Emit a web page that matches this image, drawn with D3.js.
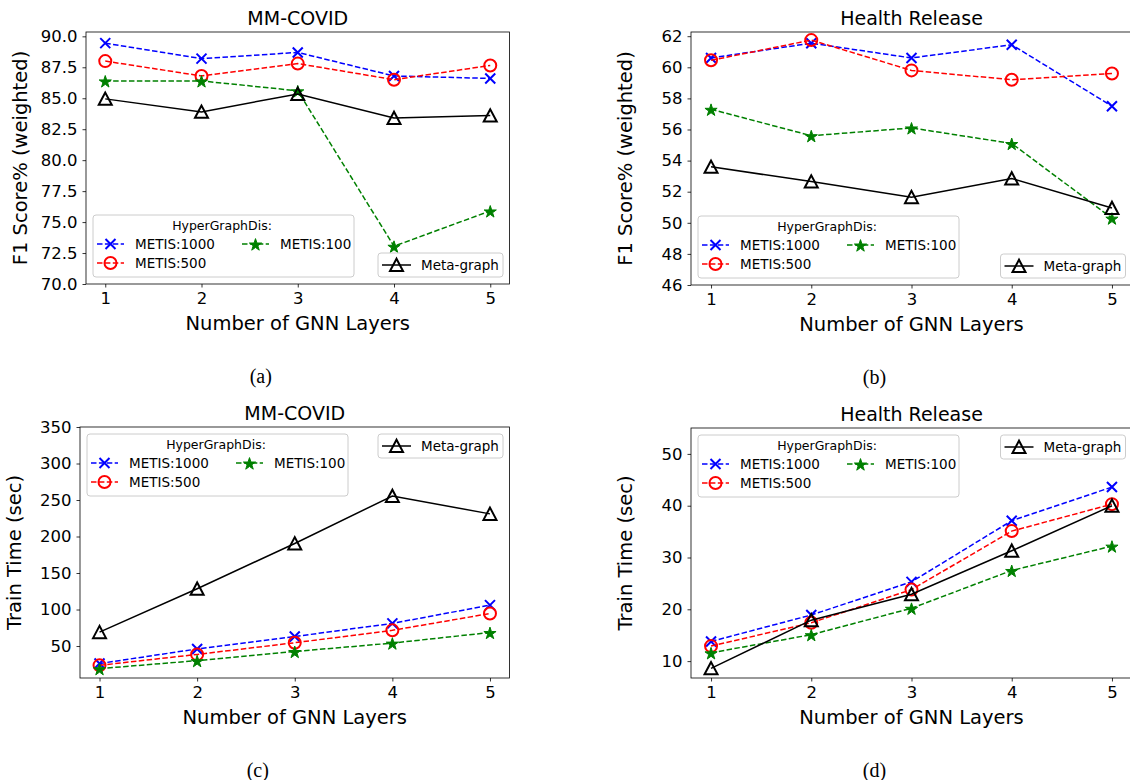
<!DOCTYPE html>
<html>
<head>
<meta charset="utf-8">
<script src="https://cdn.jsdelivr.net/npm/d3@7"></script>
<style>
  body { margin: 0; background: #fff; }
  svg { display: block; font-family: "DejaVu Sans", sans-serif; }
</style>
</head>
<body>
<div class="graph"></div>
<script>
// x axis: number of GNN layers
const layers = [1, 2, 3, 4, 5];

// (a) MM-COVID, F1 score
const covidF1Metis1000 = [89.45, 88.2, 88.7, 86.8, 86.6];
const covidF1Metis500 = [88.0, 86.8, 87.8, 86.5, 87.65];
const covidF1Metis100 = [86.4, 86.4, 85.6, 73.05, 75.9];
const covidF1Meta = [84.95, 83.9, 85.35, 83.4, 83.6];

// (b) Health Release, F1 score
const healthF1Metis1000 = [60.6, 61.55, 60.6, 61.45, 57.5];
const healthF1Metis500 = [60.45, 61.75, 59.8, 59.2, 59.6];
const healthF1Metis100 = [57.3, 55.6, 56.1, 55.1, 50.3];
const healthF1Meta = [53.6, 52.65, 51.65, 52.85, 50.95];

// (c) MM-COVID, train time
const covidTimeMetis1000 = [26, 46, 63, 81, 106];
const covidTimeMetis500 = [23.5, 38.5, 54.5, 71.5, 94.5];
const covidTimeMetis100 = [19, 30, 42.5, 54, 68.5];
const covidTimeMeta = [69, 128.5, 190.5, 255.5, 231];

// (d) Health Release, train time
const healthTimeMetis1000 = [13.8, 18.9, 25.3, 37.1, 43.6];
const healthTimeMetis500 = [12.9, 17.4, 23.8, 35.1, 40.3];
const healthTimeMetis100 = [11.6, 15.1, 20.2, 27.5, 32.2];
const healthTimeMeta = [8.6, 17.9, 22.9, 31.3, 40.0];

const seriesNames = ["METIS:1000", "METIS:500", "METIS:100", "Meta-graph"];
const legendTitle = "HyperGraphDis:";

const f1Ticks = [70, 72.5, 75, 77.5, 80, 82.5, 85, 87.5, 90];
const healthF1Ticks = [46, 48, 50, 52, 54, 56, 58, 60, 62];
const covidTimeTicks = [50, 100, 150, 200, 250, 300, 350];
const healthTimeTicks = [10, 20, 30, 40, 50];

// styles for each series (same order as seriesNames)
const styles = [
  { color: "blue", dash: "5.5,2.4", marker: "x" },
  { color: "red", dash: "5.5,2.4", marker: "o" },
  { color: "green", dash: "5.5,2.4", marker: "star" },
  { color: "black", dash: null, marker: "tri" }
];

const panels = [
  { title: "MM-COVID", caption: "(a)", ylabel: "F1 Score% (weighted)",
    series: [covidF1Metis1000, covidF1Metis500, covidF1Metis100, covidF1Meta],
    ticks: f1Ticks, fmt: d3.format(".1f"), ydom: [70, 90.35],
    box: { l: 86, r: 509.5, t: 32, b: 284 }, legendAt: "bottom" },
  { title: "Health Release", caption: "(b)", ylabel: "F1 Score% (weighted)",
    series: [healthF1Metis1000, healthF1Metis500, healthF1Metis100, healthF1Meta],
    ticks: healthF1Ticks, fmt: d3.format("d"), ydom: [46, 62.27],
    box: { l: 691, r: 1132, t: 32, b: 285 }, legendAt: "bottom" },
  { title: "MM-COVID", caption: "(c)", ylabel: "Train Time (sec)",
    series: [covidTimeMetis1000, covidTimeMetis500, covidTimeMetis100, covidTimeMeta],
    ticks: covidTimeTicks, fmt: d3.format("d"), ydom: [6.2, 350],
    box: { l: 80, r: 509.5, t: 427, b: 678 }, legendAt: "top" },
  { title: "Health Release", caption: "(d)", ylabel: "Train Time (sec)",
    series: [healthTimeMetis1000, healthTimeMetis500, healthTimeMetis100, healthTimeMeta],
    ticks: healthTimeTicks, fmt: d3.format("d"), ydom: [6.74, 55],
    box: { l: 691, r: 1132, t: 428, b: 678 }, legendAt: "top" }
];

const W = 1130, H = 780;
const svg = d3.select(".graph").append("svg")
  .attr("width", W).attr("height", H);

function drawMarker(g, type, color) {
  if (type === "x") {
    g.append("path").attr("d", "M-5,-5L5,5M-5,5L5,-5")
      .attr("stroke", color).attr("stroke-width", 2).attr("fill", "none");
  } else if (type === "o") {
    g.append("circle").attr("r", 6)
      .attr("stroke", color).attr("stroke-width", 2).attr("fill", "none");
  } else if (type === "star") {
    g.append("path").attr("d", d3.symbol(d3.symbolStar, 46)())
      .attr("transform", "translate(0,1)")
      .attr("fill", color).attr("stroke", color).attr("stroke-width", 1);
  } else {
    g.append("path").attr("d", "M0,-6.3L-6.5,6L6.5,6Z")
      .attr("stroke", color).attr("stroke-width", 2).attr("fill", "none")
      .attr("stroke-linejoin", "miter");
  }
}

function drawPanel(p) {
  const b = p.box;
  const x = d3.scaleLinear().domain([0.8, 5.2]).range([b.l, b.r]);
  const y = d3.scaleLinear().domain(p.ydom).range([b.b, b.t]);
  const g = svg.append("g");

  // axes
  const xa = g.append("g").attr("transform", `translate(0,${b.b})`)
    .call(d3.axisBottom(x).tickValues(layers).tickFormat(d3.format("d"))
      .tickSize(3.5).tickSizeOuter(0).tickPadding(4.5));
  const ya = g.append("g").attr("transform", `translate(${b.l},0)`)
    .call(d3.axisLeft(y).tickValues(p.ticks).tickFormat(p.fmt)
      .tickSize(3.5).tickSizeOuter(0).tickPadding(5));
  [xa, ya].forEach(a => {
    a.select(".domain").remove();
    a.selectAll("text").attr("font-size", 16.5).attr("fill", "#000")
      .attr("font-family", "DejaVu Sans");
    a.selectAll("line").attr("stroke", "#000").attr("stroke-width", 0.8);
  });

  // lines and markers
  const line = d3.line().x((d, i) => x(layers[i])).y(d => y(d));
  p.series.forEach((vals, si) => {
    const st = styles[si];
    const sg = g.append("g");
    sg.append("path").datum(vals).attr("d", line)
      .attr("fill", "none").attr("stroke", st.color).attr("stroke-width", 1.5)
      .attr("stroke-dasharray", st.dash);
    vals.forEach((v, i) => {
      const m = sg.append("g").attr("transform", `translate(${x(layers[i])},${y(v)})`);
      drawMarker(m, st.marker, st.color);
    });
  });

  // frame
  g.append("rect").attr("x", b.l).attr("y", b.t)
    .attr("width", b.r - b.l).attr("height", b.b - b.t)
    .attr("fill", "none").attr("stroke", "#000").attr("stroke-width", 0.8);

  // legends
  const lw = 261, lh = 62;
  const lx = b.l + 7;
  const ly = p.legendAt === "bottom" ? b.b - 7 - lh : b.t + 7;
  const lg = g.append("g").attr("transform", `translate(${lx},${ly})`);
  lg.append("rect").attr("width", lw).attr("height", lh).attr("rx", 3)
    .attr("fill", "rgba(255,255,255,0.8)").attr("stroke", "#cccccc").attr("stroke-width", 1);
  lg.append("text").attr("x", 129).attr("y", 11).attr("dy", "0.35em")
    .attr("text-anchor", "middle").attr("font-size", 12.5).text(legendTitle);
  const slots = [{ c: 0, r: 0 }, { c: 0, r: 1 }, { c: 1, r: 0 }];
  slots.forEach((s, si) => {
    const st = styles[si];
    const hx = s.c === 0 ? 4 : 149;
    const hy = s.r === 0 ? 29 : 48;
    const h = lg.append("g").attr("transform", `translate(${hx},${hy})`);
    h.append("line").attr("x1", 0).attr("x2", 27).attr("stroke", st.color)
      .attr("stroke-width", 1.5).attr("stroke-dasharray", st.dash);
    drawMarker(h.append("g").attr("transform", "translate(13.5,0)"), st.marker, st.color);
    lg.append("text").attr("x", hx + 38).attr("y", hy).attr("dy", "0.35em")
      .attr("font-size", 13.5).text(seriesNames[si]);
  });

  const mw = 125, mh = 24;
  const mx = b.r - 6.5 - mw;
  const my = p.legendAt === "bottom" ? b.b - 7 - mh : b.t + 7;
  const mg = g.append("g").attr("transform", `translate(${mx},${my})`);
  mg.append("rect").attr("width", mw).attr("height", mh).attr("rx", 3)
    .attr("fill", "rgba(255,255,255,0.8)").attr("stroke", "#cccccc").attr("stroke-width", 1);
  mg.append("line").attr("x1", 4).attr("x2", 33).attr("y1", 12).attr("y2", 12)
    .attr("stroke", "black").attr("stroke-width", 1.5);
  drawMarker(mg.append("g").attr("transform", "translate(18.5,12)"), "tri", "black");
  mg.append("text").attr("x", 43).attr("y", 12).attr("dy", "0.35em")
    .attr("font-size", 13.5).text(seriesNames[3]);

  // titles and labels
  const cx = (b.l + b.r) / 2;
  g.append("text").attr("x", cx).attr("y", b.t - 7)
    .attr("text-anchor", "middle").attr("font-size", 19).text(p.title);
  g.append("text").attr("x", cx).attr("y", b.b + 46)
    .attr("text-anchor", "middle").attr("font-size", 19.5).text("Number of GNN Layers");
  g.append("text")
    .attr("transform", `translate(${b.l - 59},${(b.t + b.b) / 2}) rotate(-90)`)
    .attr("text-anchor", "middle").attr("font-size", 19.5).text(p.ylabel);
  g.append("text").attr("x", cx - 37).attr("y", b.b + 99)
    .attr("text-anchor", "middle").attr("font-size", 20)
    .attr("font-family", "Liberation Serif, serif").text(p.caption);
}

panels.forEach(drawPanel);
</script>
</body>
</html>
